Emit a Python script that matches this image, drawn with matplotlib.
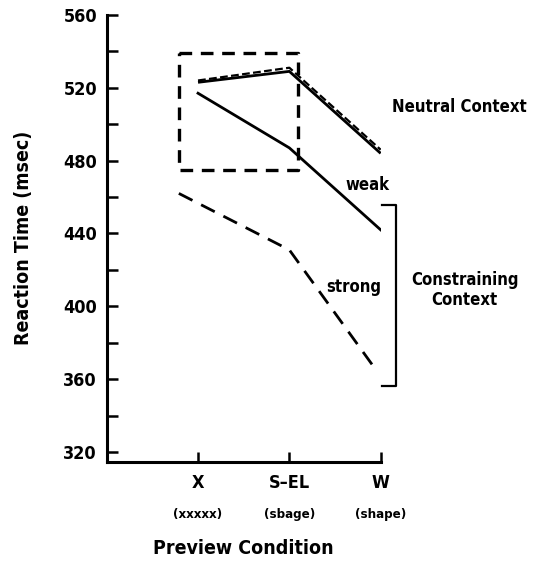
import matplotlib
matplotlib.use("Agg")
import matplotlib.pyplot as plt
import numpy as np

plt.rcParams['font.family'] = ['DejaVu Sans']
plt.rcParams['font.stretch'] = 'condensed'
plt.rcParams['font.weight'] = 'bold'
plt.rcParams['axes.labelweight'] = 'bold'

# preview conditions
conditions = ["X", "S\u2013EL", "W"]
examples = ["(xxxxx)", "(sbage)", "(shape)"]
pos = [0, 1, 2]

# reaction times (msec)
neutral_solid = [523, 529, 484]
neutral_dashed = [524, 531, 486]
weak = [517, 487, 442]
strong_pos = [-0.21, 1, 1.95]
strong = [462, 431, 365]

# dashed box round the neutral / weak X and S-EL points
box_x = [-0.21, 1.1, 1.1, -0.21, -0.21]
box_y = [539, 539, 475, 475, 539]

# bracket for the constraining context
bracket_x = [2.02, 2.17, 2.17, 2.02]
bracket_y = [455.5, 455.5, 356, 356]

fig = plt.figure(figsize=(5.33, 5.67), dpi=100)
ax = fig.add_axes([0.2002, 0.1857, 0.514, 0.788])

ax.plot(pos, neutral_solid, color='k', lw=2.0, solid_capstyle='butt')
ax.plot(pos, neutral_dashed, color='k', lw=1.6, dashes=(3.5, 1.5))
ax.plot(pos, weak, color='k', lw=2.0)
ax.plot(strong_pos, strong, color='k', lw=2.0, dashes=(5.5, 3.5))
ax.plot(box_x, box_y, color='k', lw=2.4, dashes=(3.8, 2.6))
ax.plot(bracket_x, bracket_y, color='k', lw=1.6, clip_on=False)

ax.set_xlim(-1, 2)
ax.set_ylim(314.7, 560)

ax.spines['top'].set_visible(False)
ax.spines['right'].set_visible(False)
ax.spines['left'].set_linewidth(2.2)
ax.spines['bottom'].set_linewidth(2.2)

ax.set_yticks(np.arange(320, 561, 40))
ax.set_yticks(np.arange(340, 560, 40), minor=True)
ax.tick_params(axis='y', which='both', direction='in', length=8, width=1.8,
               labelsize=13, pad=7)
ax.set_xticks(pos)
ax.set_xticklabels(conditions)
ax.tick_params(axis='x', direction='in', length=7, width=1.8, labelsize=13, pad=9)

for x, s in zip(pos, examples):
    ax.text(x, -0.119, s, transform=ax.get_xaxis_transform(), ha='center',
            va='center', fontsize=9.5)

ax.set_xlabel("Preview Condition", fontsize=14, labelpad=34)
ax.set_ylabel("Reaction Time (msec)", fontsize=14, labelpad=22)

ax.text(2.86, 509.5, "Neutral Context", ha='center', va='center', fontsize=12,
        clip_on=False)
ax.text(1.86, 466.6, "weak", ha='center', va='center', fontsize=12)
ax.text(1.70, 410.5, "strong", ha='center', va='center', fontsize=12)
ax.text(2.92, 409, "Constraining\nContext", ha='center', va='center', fontsize=12,
        linespacing=1.2, clip_on=False)

fig.savefig("out.png", dpi=100)
